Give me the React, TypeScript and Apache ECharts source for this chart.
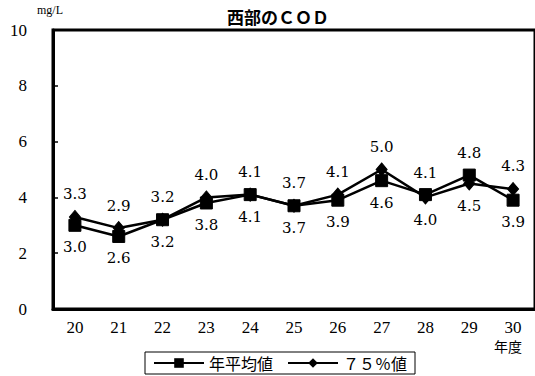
import React, { useEffect, useRef } from "react";
import * as echarts from "echarts";

const categories = ["20", "21", "22", "23", "24", "25", "26", "27", "28", "29", "30"];
const annualMean = [3.0, 2.6, 3.2, 3.8, 4.1, 3.7, 3.9, 4.6, 4.1, 4.8, 3.9];
const pct75 = [3.3, 2.9, 3.2, 4.0, 4.1, 3.7, 4.1, 5.0, 4.0, 4.5, 4.3];
// label placement: true = above
const meanAbove = [false, false, false, false, false, false, false, false, true, true, false];
const pctAbove = [true, true, true, true, true, true, true, true, false, false, true];

const SERIF = "'Liberation Serif', 'DejaVu Serif', serif";
const LABEL_SERIF = "'DejaVu Serif', serif";
const CJK = "'Noto Sans CJK JP', sans-serif";

const labelFont = {
  fontFamily: LABEL_SERIF,
  fontSize: 15,
  color: "#000",
};

export default function App() {
  const ref = useRef<HTMLDivElement>(null);
  useEffect(() => {
    if (!ref.current) return;
    const chart = echarts.init(ref.current, undefined, { renderer: "svg" });
    const mkData = (vals: number[], above: boolean[]) =>
      vals.map((v, i) => ({
        value: v,
        label: { position: above[i] ? "top" : "bottom" },
      }));
    chart.setOption({
      animation: false,
      backgroundColor: "#fff",
      grid: {
        left: 53,
        top: 30,
        width: 485,
        height: 279,
        show: true,
        borderColor: "#000",
        borderWidth: 3,
        backgroundColor: "transparent",
      },
      graphic: [
        {
          type: "text",
          x: 278,
          y: 16,
          style: {
            text: "西部のＣＯＤ",
            fontFamily: CJK,
            fontSize: 17,
            fontWeight: "bold",
            fill: "#000",
            textAlign: "center",
            textVerticalAlign: "middle",
          },
        },
        {
          type: "text",
          x: 37,
          y: 10,
          style: {
            text: "mg/L",
            fontFamily: SERIF,
            fontSize: 12,
            fill: "#000",
            textAlign: "left",
            textVerticalAlign: "middle",
          },
        },
        {
          type: "text",
          x: 508,
          y: 346,
          style: {
            text: "年度",
            fontFamily: CJK,
            fontSize: 14,
            fill: "#000",
            textAlign: "center",
            textVerticalAlign: "middle",
          },
        },
      ],
      legend: {
        left: 145,
        top: 352,
        orient: "horizontal",
        backgroundColor: "#fff",
        borderColor: "#000",
        borderWidth: 1,
        borderRadius: 0,
        padding: [3, 8, 3, 8],
        itemWidth: 50,
        itemHeight: 12,
        itemGap: 14,
        textStyle: {
          fontFamily: CJK,
          fontSize: 16,
          color: "#000",
        },
        data: ["年平均値", "７５％値"],
      },
      xAxis: {
        type: "category",
        data: categories,
        boundaryGap: true,
        axisLine: { lineStyle: { color: "#000", width: 3 } },
        axisTick: { inside: true, length: 5, lineStyle: { color: "#000", width: 1.5 } },
        axisLabel: {
          margin: 10,
          fontFamily: SERIF,
          fontSize: 17,
          color: "#000",
        },
        splitLine: { show: false },
      },
      yAxis: {
        type: "value",
        min: 0,
        max: 10,
        interval: 2,
        axisLine: { show: true, lineStyle: { color: "#000", width: 3 } },
        axisTick: { show: true, inside: true, length: 5, lineStyle: { color: "#000", width: 1.5 } },
        axisLabel: {
          margin: 26,
          fontFamily: SERIF,
          fontSize: 17,
          color: "#000",
        },
        splitLine: { show: false },
      },
      series: [
        {
          name: "７５％値",
          type: "line",
          data: mkData(pct75, pctAbove),
          symbol: "diamond",
          symbolSize: [11, 13],
          lineStyle: { color: "#000", width: 2.5 },
          itemStyle: { color: "#000", borderColor: "#000" },
          label: { show: true, distance: 8, ...labelFont, formatter: (p: any) => p.value.toFixed(1) },
          z: 2,
        },
        {
          name: "年平均値",
          type: "line",
          data: mkData(annualMean, meanAbove),
          symbol: "rect",
          symbolSize: 12,
          lineStyle: { color: "#000", width: 2.5 },
          itemStyle: { color: "#000", borderColor: "#000" },
          label: { show: true, distance: 8, ...labelFont, formatter: (p: any) => p.value.toFixed(1) },
          z: 3,
        },
      ],
    });
    return () => chart.dispose();
  }, []);
  return (
    <div
      ref={ref}
      style={{ position: "fixed", left: 0, top: 0, width: 535, height: 376, background: "#fff" }}
    />
  );
}
